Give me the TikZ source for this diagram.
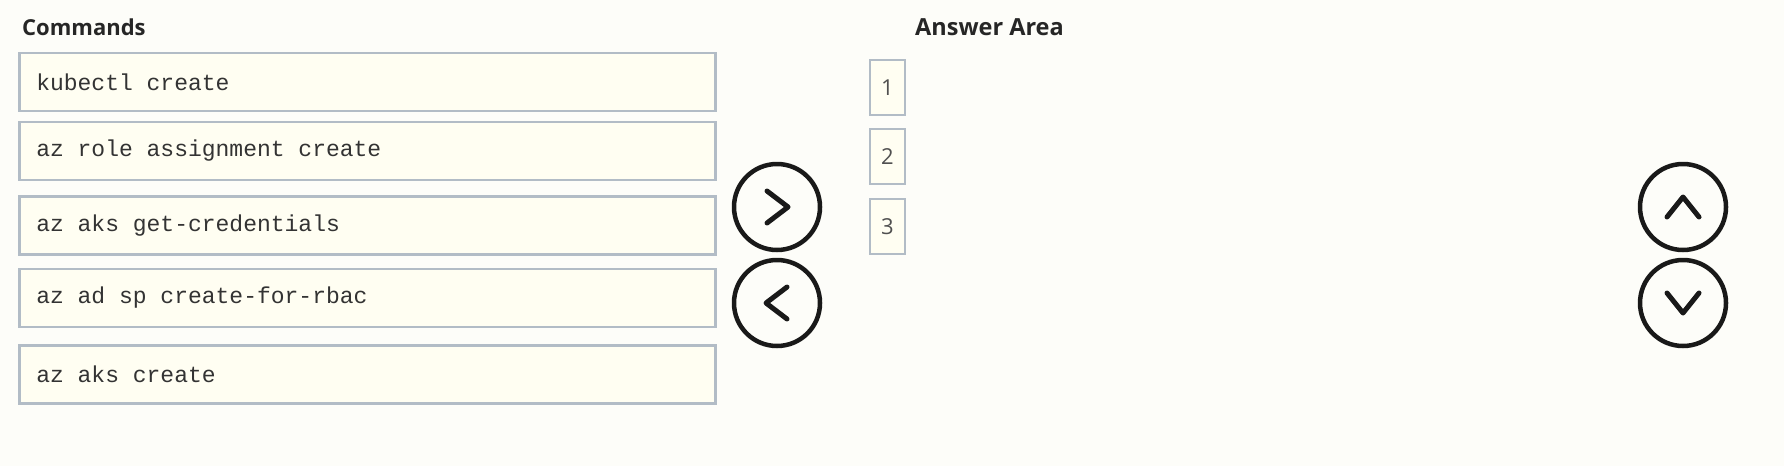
\documentclass[tikz,border=0pt]{standalone}
\usepackage{fontspec}
\setmainfont{Open Sans}
\newfontfamily\boxmono{Liberation Mono}
\newcommand\msp{\hspace*{0.6em}}
\definecolor{pagebg}{HTML}{FDFDF9}
\definecolor{boxfill}{HTML}{FFFEF2}
\definecolor{boxline}{HTML}{B2BCC6}
\definecolor{cmdtext}{HTML}{333333}
\definecolor{numtext}{HTML}{505050}
\tikzset{
  cmdbox/.style={draw=boxline, line width=2.5pt, fill=boxfill, minimum height=58pt,
    text width=662pt, align=left, inner xsep=17pt, inner ysep=0pt, anchor=west,
    text=cmdtext, font=\boxmono\fontsize{23}{27}\selectfont},
  numbox/.style={draw=boxline, line width=2.2pt, fill=boxfill, minimum width=35pt,
    minimum height=55pt, inner sep=0pt, text=numtext, font=\fontsize{22}{26}\selectfont},
  title/.style={anchor=base west, inner sep=0pt, text=black!85, font=\bfseries\fontsize{22}{26}\selectfont},
  roundbtn/.style={circle, draw=black!90, line width=4.5pt, minimum size=86pt, inner sep=0pt},
  chev/.style={draw=black!90, line width=5pt, line cap=round, line join=round}
}
\begin{document}
\begin{tikzpicture}[x=1pt,y=-1pt]
\fill[pagebg] (0,0) rectangle (1784,466);
\useasboundingbox (0,0) rectangle (1784,466);
% titles
\node[title] (tcmd) at (22,35) {Commands};
\node[title, font=\bfseries\fontsize{23.5}{26}\selectfont] (tans) at (915,35) {Answer Area};
% command boxes
\node[cmdbox] (c1) at (18,82) {kubectl\msp create};
\node[cmdbox] (c2) at (18,151) {az\msp role\msp assignment\msp create};
\node[cmdbox] (c3) at (18,225.5) {az\msp aks\msp get-credentials};
\node[cmdbox] (c4) at (18,298) {az\msp ad\msp sp\msp create-for-rbac};
\node[cmdbox] (c5) at (18,374.5) {az\msp aks\msp create};
% number slots
\node[numbox] (n1) at (887.5,87.5) {1};
\node[numbox] (n2) at (887.5,156.5) {2};
\node[numbox] (n3) at (887.5,226.5) {3};
% move buttons
\node[roundbtn] (bright) at (777,207) {};
\node[roundbtn] (bleft) at (777,303) {};
\node[roundbtn] (bup) at (1683,207) {};
\node[roundbtn] (bdown) at (1683,303) {};
% chevrons
\draw[chev] ([shift={(-10,-16)}]bright.center) -- ([shift={(11,0)}]bright.center) -- ([shift={(-10,16)}]bright.center);
\draw[chev] ([shift={(10,-16)}]bleft.center) -- ([shift={(-11,0)}]bleft.center) -- ([shift={(10,16)}]bleft.center);
\draw[chev] ([shift={(-16,10)}]bup.center) -- ([shift={(0,-10)}]bup.center) -- ([shift={(16,10)}]bup.center);
\draw[chev] ([shift={(-16,-10)}]bdown.center) -- ([shift={(0,10)}]bdown.center) -- ([shift={(16,-10)}]bdown.center);
\end{tikzpicture}
\end{document}
